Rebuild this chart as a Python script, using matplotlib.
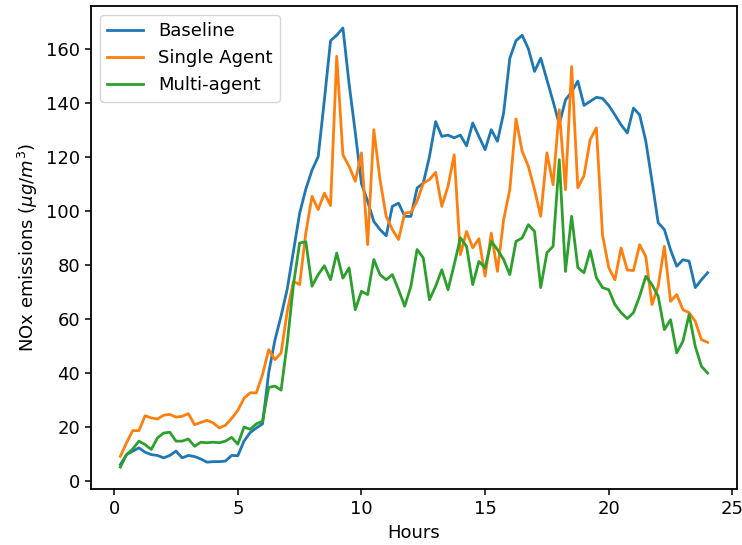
import numpy as np
import matplotlib
matplotlib.use("Agg")
import matplotlib.pyplot as plt

# the reference looks like a default plot scaled up ~1.3x
plt.rcParams['font.size'] = 13
plt.rcParams['lines.linewidth'] = 2.0
plt.rcParams['axes.linewidth'] = 1.3
plt.rcParams['xtick.major.size'] = 4.5
plt.rcParams['ytick.major.size'] = 4.5
plt.rcParams['xtick.major.width'] = 1.1
plt.rcParams['ytick.major.width'] = 1.1

# hours, 15 minute steps
hours = np.arange(1, 97) * 0.25

# one row per hour (4 quarter-hour values each)
baseline = [
    5.9, 9.6, 10.9, 12.1,
    10.5, 9.6, 9.3, 8.4,
    9.3, 10.9, 8.4, 9.3,
    8.9, 8.0, 6.8, 7.0,
    7.0, 7.2, 9.3, 9.2,
    14.6, 17.8, 19.5, 21.0,
    40.0, 52.0, 61.0, 71.0,
    85.0, 99.0, 108.0, 115.0,
    120.0, 141.0, 163.0, 165.0,
    167.7, 147.0, 129.0, 110.0,
    103.5, 96.0, 93.0, 90.7,
    101.6, 102.8, 97.9, 97.9,
    108.4, 110.2, 120.0, 133.0,
    127.5, 128.0, 127.0, 128.0,
    124.0, 132.5, 127.5, 122.6,
    130.0, 125.7, 136.2, 156.5,
    163.0, 165.0, 160.0, 151.6,
    156.5, 148.5, 140.5, 132.0,
    141.0, 144.0, 148.0, 139.0,
    140.5, 142.0, 141.6, 139.0,
    135.5, 131.8, 128.8, 138.0,
    135.5, 125.7, 110.9, 95.5,
    93.0, 85.5, 79.4, 81.8,
    81.3, 71.5, 74.4, 77.0,
]

single_agent = [
    9.0, 14.0, 18.5, 18.5,
    24.0, 23.2, 22.8, 24.2,
    24.5, 23.5, 23.8, 24.8,
    20.7, 21.5, 22.3, 21.4,
    19.5, 20.5, 23.0, 26.0,
    30.5, 32.5, 32.5, 39.3,
    48.5, 44.8, 47.3, 62.7,
    73.8, 72.6, 91.7, 105.3,
    100.4, 106.5, 101.9, 157.2,
    120.7, 116.4, 110.9, 121.4,
    87.4, 130.0, 111.5, 97.9,
    93.0, 89.3, 99.1, 99.4,
    103.5, 110.2, 111.5, 114.2,
    101.6, 109.0, 120.7, 83.7,
    92.3, 86.2, 89.6, 75.7,
    91.7, 77.5, 96.7, 107.8,
    134.0, 122.0, 116.4, 107.8,
    97.9, 121.4, 109.6, 137.4,
    107.8, 153.4, 108.5, 113.0,
    126.3, 130.7, 91.0, 78.9,
    74.4, 86.2, 78.0, 77.8,
    87.4, 83.0, 65.2, 72.0,
    86.8, 66.4, 68.9, 63.3,
    62.2, 59.0, 52.2, 51.2,
]

multi_agent = [
    5.0, 9.6, 11.7, 14.6,
    13.3, 11.5, 15.8, 17.6,
    17.9, 14.6, 14.6, 15.4,
    12.7, 14.2, 14.0, 14.2,
    14.0, 14.6, 16.0, 13.5,
    19.8, 19.0, 21.0, 22.0,
    34.5, 35.0, 33.5, 51.0,
    72.6, 88.0, 88.5, 72.0,
    76.3, 79.6, 74.4, 84.3,
    75.0, 78.8, 63.3, 70.1,
    68.9, 81.9, 76.3, 74.4,
    76.3, 70.7, 64.6, 72.0,
    85.6, 82.5, 67.0, 72.0,
    78.1, 70.7, 80.0, 89.9,
    86.8, 72.6, 81.2, 78.8,
    88.6, 85.6, 81.9, 76.3,
    88.6, 89.9, 94.8, 92.3,
    71.5, 84.4, 86.8, 118.9,
    77.5, 97.9, 78.9, 77.0,
    85.2, 75.2, 71.5, 70.7,
    65.2, 62.2, 60.0, 62.2,
    68.3, 75.7, 72.6, 68.3,
    55.9, 59.6, 47.3, 51.6,
    61.5, 49.7, 42.3, 39.8,
]

fig = plt.figure(figsize=(7.42, 5.45), dpi=100)
fig.subplots_adjust(left=91/742, right=737/742, bottom=56/545, top=539/545)
ax = fig.add_subplot(111)

ax.plot(hours, baseline, label='Baseline')
ax.plot(hours, single_agent, label='Single Agent')
ax.plot(hours, multi_agent, label='Multi-agent')

ax.set_xlabel('Hours')
ax.set_ylabel(r'NOx emissions ($\mu g/m^3$)')
ax.legend(loc='upper left')

fig.savefig('out.png', dpi=100)
